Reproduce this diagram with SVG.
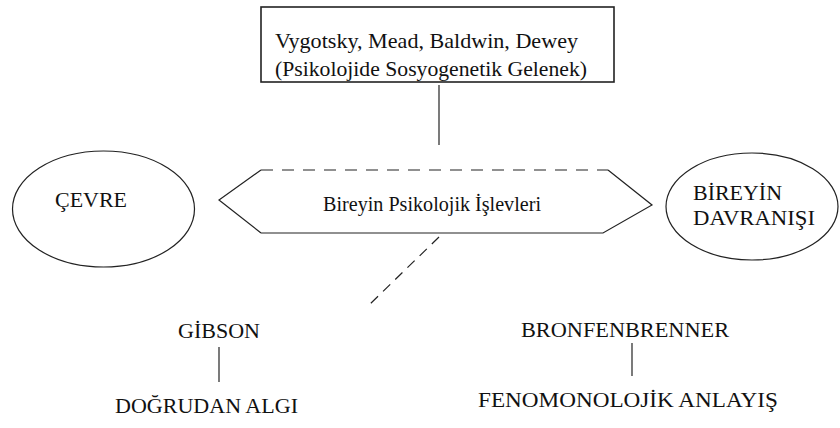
<svg xmlns="http://www.w3.org/2000/svg" width="840" height="428" viewBox="0 0 840 428" font-family="Liberation Serif, Times New Roman, serif" font-size="21">
<style>
text{fill:#111}
.s{fill:none;stroke:#222;stroke-width:1.2}
.d{fill:none;stroke:#222;stroke-width:1.2;stroke-dasharray:12 9}
</style>
<rect width="840" height="428" fill="#fff"/>
<g id="gelenek">
<rect x="261" y="7" width="353" height="75" fill="#fff" stroke="#222" stroke-width="1.6"/>
<text x="275" y="48" textLength="303" lengthAdjust="spacingAndGlyphs">Vygotsky, Mead, Baldwin, Dewey</text>
<text x="275" y="76" textLength="312" lengthAdjust="spacingAndGlyphs">(Psikolojide Sosyogenetik Gelenek)</text>
</g>
<g id="cevre">
<ellipse cx="103.5" cy="209" rx="91" ry="58" class="s"/>
<text x="55" y="207" textLength="72" lengthAdjust="spacingAndGlyphs">ÇEVRE</text>
</g>
<g id="islevler">
<path d="M261 233 L219 200 L261 170 M608 170 L652 205 L603 233 L261 233" class="s"/>
<path d="M261 170 H608" class="d"/>
<text x="323" y="211" textLength="218" lengthAdjust="spacingAndGlyphs">Bireyin Psikolojik İşlevleri</text>
</g>
<g id="davranis">
<ellipse cx="752" cy="206.5" rx="86" ry="53.5" class="s"/>
<text x="693" y="200" textLength="89" lengthAdjust="spacingAndGlyphs">BİREYİN</text>
<text x="693" y="225" textLength="122" lengthAdjust="spacingAndGlyphs">DAVRANIŞI</text>
</g>
<g id="gibson">
<text x="178" y="338" textLength="82" lengthAdjust="spacingAndGlyphs">GİBSON</text>
</g>
<g id="dogrudan">
<text x="115" y="413" textLength="183" lengthAdjust="spacingAndGlyphs">DOĞRUDAN ALGI</text>
</g>
<g id="bronfenbrenner">
<text x="521" y="337" textLength="208" lengthAdjust="spacingAndGlyphs">BRONFENBRENNER</text>
</g>
<g id="fenomenolojik">
<text x="478" y="407" textLength="300" lengthAdjust="spacingAndGlyphs">FENOMONOLOJİK ANLAYIŞ</text>
</g>
<g id="connectors">
<line x1="439" y1="85" x2="439" y2="145" class="s"/>
<line x1="439" y1="237" x2="369" y2="305" stroke="#222" stroke-width="1.2" stroke-dasharray="10 7"/>
<line x1="219" y1="347" x2="219" y2="382" class="s"/>
<line x1="632" y1="343" x2="632" y2="376" class="s"/>
</g>
</svg>
